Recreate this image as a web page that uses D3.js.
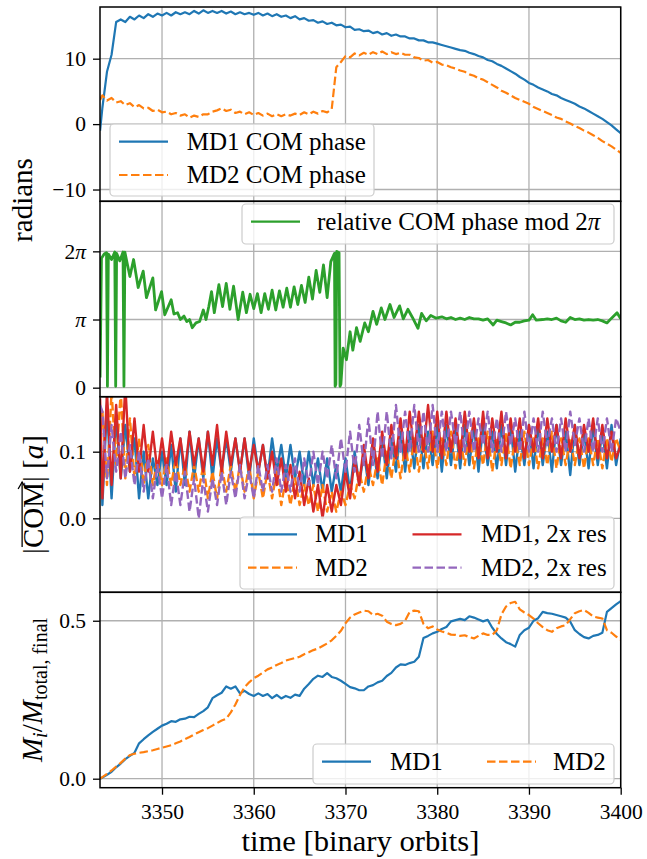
<!DOCTYPE html>
<html><head><meta charset="utf-8">
<script src="https://cdn.jsdelivr.net/npm/d3@7"></script>
<style>
body{margin:0;background:#fff}
svg{display:block}
text{font-family:"Liberation Serif","Times New Roman",serif;fill:#000}
</style>
</head><body>
<svg id="c" width="647" height="859"></svg>
<script>
// ---------- DATA ----------
const timeGrid = [3343.25,3343.5,3344,3344.5,3345,3345.5,3346,3346.5,3347,3347.5,3348,3348.5,3349,3349.5,3350,3350.5,3351,3351.5,3352,3352.5,3353,3353.5,3354,3354.5,3355,3355.5,3356,3356.5,3357,3357.5,3358,3358.5,3359,3359.5,3360,3360.5,3361,3361.5,3362,3362.5,3363,3363.5,3364,3364.5,3365,3365.5,3366,3366.5,3367,3367.5,3368,3368.5,3369,3369.5,3370,3370.5,3371,3371.5,3372,3372.5,3373,3373.5,3374,3374.5,3375,3375.5,3376,3376.5,3377,3377.5,3378,3378.5,3379,3379.5,3380,3380.5,3381,3381.5,3382,3382.5,3383,3383.5,3384,3384.5,3385,3385.5,3386,3386.5,3387,3387.5,3388,3388.5,3389,3389.5,3390,3390.5,3391,3391.5,3392,3392.5,3393,3393.5,3394,3394.5,3395,3395.5,3396,3396.5,3397,3397.5,3398,3398.5,3399,3399.5,3400];

// panel 1: COM phase [radians]
const md1Phase = [-1.0,2.5,8.0,10.6,15.6,16.0,15.6,16.4,16.0,16.6,
16.2,16.8,16.4,16.9,16.6,17.0,16.6,17.1,16.8,17.1,
16.8,17.3,16.9,17.4,17.0,17.3,17.0,17.3,16.9,17.2,
16.8,17.1,16.8,17.0,16.7,17.0,16.6,16.9,16.5,16.8,
16.4,16.6,16.2,16.5,16.0,16.2,15.8,15.9,15.5,15.7,
15.3,15.5,15.1,15.2,14.8,14.9,14.4,14.5,14.2,14.3,
13.9,14.1,13.7,13.9,13.5,13.7,13.4,13.4,13.1,13.1,
12.8,12.8,12.5,12.5,12.3,12.1,11.9,11.7,11.5,11.3,
11.2,10.9,10.7,10.4,10.2,9.8,9.6,9.2,8.9,8.5,
8.1,7.7,7.2,6.8,6.3,6.0,5.6,5.3,5.0,4.6,
4.4,4.0,3.7,3.4,3.1,2.7,2.4,2.0,1.6,1.2,
0.8,0.3,-0.2,-0.8,-1.4];
const md2Phase = [3.7,4.4,3.6,4.0,3.3,3.5,2.9,3.2,2.6,2.9,
2.4,2.5,2.0,2.2,1.8,1.9,1.5,1.7,1.3,1.5,
1.0,1.3,1.1,1.5,1.5,1.9,2.1,2.4,2.0,2.2,
1.7,1.9,1.5,1.8,1.4,1.7,1.3,1.6,1.2,1.5,
1.2,1.5,1.3,1.6,1.4,1.8,1.5,1.9,1.6,2.0,
1.8,2.3,8.7,9.5,10.4,10.2,10.8,10.5,10.9,10.6,
11.0,10.7,11.1,10.7,11.0,10.7,10.9,10.6,10.6,10.2,
10.1,9.7,9.8,9.4,9.5,9.1,9.0,8.7,8.5,8.2,
8.0,7.6,7.4,7.0,6.8,6.4,6.0,5.6,5.1,4.8,
4.4,4.0,3.7,3.4,3.1,2.6,2.3,2.0,1.7,1.4,
1.0,0.8,0.4,0.1,-0.3,-0.6,-1.0,-1.3,-1.7,-2.1,
-2.6,-3.0,-3.4,-3.9,-4.4];

// panel 2: relative COM phase mod 2pi (in units of pi)
const relTime = [3343.25,3343.4,3343.7,3343.95,3344.05,3344.15,3344.5,3344.85,3344.95,3345.05,
3345.4,3345.75,3345.85,3345.95,3346.5,3346.9,3347.4,3347.95,3348.3,3349.0,
3349.3,3349.95,3350.3,3351.0,3351.3,3351.7,3352.0,3352.4,3352.7,3353.0,
3353.3,3353.7,3354.1,3354.5,3354.8,3355.1,3355.4,3355.7,3356.2,3356.6,
3357.0,3357.4,3357.8,3358.3,3358.8,3359.2,3359.6,3360.0,3360.4,3360.8,
3361.2,3361.6,3362.0,3362.4,3362.8,3363.2,3363.6,3364.0,3364.4,3364.8,
3365.2,3365.6,3366.0,3366.4,3366.8,3367.2,3367.6,3368.0,3368.4,3368.8,
3368.87,3368.95,3369.05,3369.3,3369.4,3369.5,3369.75,3370.1,3370.5,3370.8,
3371.2,3371.6,3372.1,3372.5,3373.0,3373.4,3373.9,3374.3,3374.85,3375.3,
3375.9,3376.3,3376.8,3377.3,3377.9,3378.3,3378.8,3379.3,3379.9,3380.5,
3381.0,3381.5,3382.0,3382.5,3383.0,3383.5,3384.0,3384.5,3385.0,3385.5,
3386.1,3386.5,3387.0,3387.5,3388.0,3388.5,3389.0,3389.5,3390.0,3390.4,
3390.8,3391.5,3392.0,3392.5,3393.0,3393.5,3394.0,3394.5,3395.0,3395.5,
3396.0,3396.5,3397.0,3397.5,3398.0,3398.5,3399.0,3399.6,3400.0];
const relPhaseOverPi = [0.15,1.90,1.96,1.98,0.02,1.96,1.88,1.99,0.02,1.97,
1.86,1.99,0.02,1.99,1.63,1.88,1.47,1.71,1.32,1.61,
1.14,1.41,1.07,1.29,1.08,1.10,1.00,1.05,0.97,1.00,
0.88,0.95,0.97,1.14,1.00,1.19,1.41,1.10,1.51,1.19,
1.53,1.15,1.49,1.00,1.40,1.10,1.37,1.16,1.38,1.10,
1.38,1.15,1.43,1.14,1.42,1.18,1.46,1.18,1.48,1.22,
1.50,1.25,1.62,1.30,1.72,1.40,1.80,1.32,1.85,1.97,
0.02,0.05,2.00,1.98,0.02,0.05,0.58,0.41,0.82,0.55,
0.88,0.68,0.95,0.82,1.12,0.93,1.17,1.00,1.22,1.03,
1.20,1.01,1.15,1.03,0.87,1.09,0.98,1.06,1.02,1.04,
1.01,1.03,1.00,1.02,1.00,1.03,1.01,1.01,0.99,1.01,
0.92,0.99,0.97,0.95,0.92,0.96,0.96,0.98,0.99,1.07,
0.99,1.00,1.01,1.00,1.02,0.98,0.96,1.03,1.00,1.01,
0.99,1.00,0.99,1.00,0.98,0.95,1.02,1.10,1.01];

// panel 3: |COM| [a]
const comMD1 = [0.16,0.02,0.17,0.03,0.15,0.06,0.14,0.07,0.12,0.03,
0.10,0.03,0.09,0.05,0.10,0.05,0.11,0.04,0.12,0.05,
0.13,0.06,0.12,0.06,0.13,0.06,0.12,0.07,0.12,0.07,
0.12,0.07,0.12,0.06,0.12,0.07,0.11,0.06,0.12,0.07,
0.11,0.06,0.11,0.06,0.10,0.05,0.10,0.05,0.09,0.04,
0.09,0.04,0.08,0.04,0.09,0.04,0.10,0.05,0.10,0.05,
0.11,0.06,0.12,0.06,0.12,0.07,0.13,0.07,0.13,0.075,
0.14,0.075,0.13,0.08,0.14,0.07,0.14,0.08,0.14,0.075,
0.14,0.08,0.14,0.07,0.14,0.08,0.13,0.075,0.14,0.08,
0.14,0.07,0.13,0.08,0.14,0.075,0.14,0.08,0.13,0.07,
0.14,0.08,0.13,0.065,0.14,0.08,0.13,0.075,0.14,0.08,
0.13,0.075,0.14,0.08,0.12];
const comMD2 = [0.12,0.16,0.05,0.19,0.08,0.19,0.06,0.15,0.06,
0.12,0.05,0.11,0.05,0.09,0.05,0.09,0.05,0.09,0.05,
0.08,0.04,0.08,0.04,0.08,0.03,0.07,0.03,0.08,0.04,
0.08,0.04,0.08,0.04,0.08,0.03,0.07,0.03,0.07,0.03,
0.07,0.02,0.06,0.02,0.06,0.02,0.05,0.02,0.05,0.01,
0.05,0.01,0.04,0.01,0.04,0.02,0.05,0.03,0.07,0.04,
0.08,0.05,0.09,0.05,0.10,0.06,0.11,0.06,0.11,0.07,
0.12,0.07,0.12,0.075,0.13,0.075,0.12,0.08,0.13,0.075,
0.12,0.08,0.13,0.075,0.12,0.08,0.13,0.07,0.12,0.08,
0.13,0.075,0.12,0.08,0.13,0.08,0.12,0.075,0.12,0.08,
0.13,0.075,0.12,0.08,0.12,0.08,0.12,0.075,0.12,0.08,
0.12,0.075,0.12,0.085,0.12,0.10];
const comMD1x2 = [0.18,0.03,0.19,0.05,0.17,0.06,0.20,0.07,0.15,0.07,
0.14,0.07,0.13,0.07,0.12,0.07,0.13,0.08,0.12,0.07,
0.13,0.08,0.12,0.07,0.13,0.08,0.14,0.07,0.13,0.08,
0.12,0.07,0.12,0.07,0.11,0.07,0.11,0.06,0.10,0.05,
0.09,0.04,0.08,0.03,0.07,0.02,0.06,0.01,0.05,0.00,
0.05,0.01,0.05,0.02,0.07,0.03,0.09,0.05,0.11,0.06,
0.12,0.07,0.13,0.08,0.14,0.09,0.15,0.09,0.16,0.10,
0.16,0.10,0.17,0.10,0.16,0.09,0.16,0.10,0.15,0.09,
0.16,0.10,0.15,0.09,0.16,0.09,0.15,0.10,0.16,0.09,
0.15,0.10,0.15,0.09,0.14,0.10,0.15,0.09,0.15,0.10,
0.14,0.09,0.15,0.10,0.14,0.09,0.14,0.10,0.15,0.09,
0.14,0.09,0.13,0.09,0.11];
const comMD2x2 = [0.17,0.16,0.06,0.14,0.07,0.13,0.06,0.11,0.05,
0.10,0.04,0.09,0.03,0.08,0.03,0.08,0.02,0.07,0.02,
0.07,0.01,0.06,0.00,0.06,0.01,0.06,0.02,0.07,0.02,
0.07,0.03,0.08,0.03,0.07,0.03,0.08,0.04,0.08,0.04,
0.09,0.04,0.08,0.04,0.09,0.04,0.09,0.05,0.10,0.05,
0.10,0.06,0.11,0.06,0.12,0.07,0.13,0.07,0.14,0.08,
0.15,0.08,0.16,0.09,0.16,0.09,0.17,0.10,0.16,0.10,
0.17,0.10,0.16,0.10,0.17,0.10,0.16,0.10,0.16,0.11,
0.16,0.10,0.16,0.10,0.15,0.11,0.16,0.10,0.15,0.10,
0.16,0.11,0.15,0.10,0.16,0.10,0.15,0.10,0.16,0.11,
0.15,0.10,0.15,0.10,0.16,0.11,0.15,0.10,0.15,0.10,
0.15,0.10,0.15,0.10,0.15,0.13];

// panel 4: M_i / M_total,final
const massMD1 = [0.000,0.004,0.012,0.022,0.036,0.048,0.062,0.072,0.082,0.112,
0.125,0.137,0.148,0.158,0.168,0.174,0.182,0.180,0.188,0.190,
0.196,0.195,0.205,0.214,0.226,0.255,0.264,0.272,0.292,0.285,
0.292,0.270,0.278,0.268,0.262,0.270,0.262,0.268,0.255,0.265,
0.254,0.262,0.256,0.266,0.262,0.285,0.300,0.316,0.326,0.322,
0.334,0.322,0.318,0.310,0.300,0.290,0.286,0.280,0.280,0.292,
0.296,0.305,0.310,0.325,0.335,0.352,0.362,0.360,0.366,0.370,
0.386,0.445,0.452,0.460,0.465,0.474,0.480,0.498,0.502,0.506,
0.502,0.514,0.510,0.504,0.498,0.503,0.478,0.458,0.444,0.432,
0.426,0.418,0.455,0.470,0.478,0.500,0.508,0.528,0.524,0.522,
0.518,0.514,0.510,0.497,0.470,0.458,0.448,0.444,0.452,0.455,
0.462,0.528,0.540,0.552,0.562];
const massMD2 = [0.000,0.005,0.015,0.026,0.038,0.050,0.064,0.075,0.079,0.082,
0.084,0.087,0.090,0.094,0.098,0.102,0.106,0.112,0.118,0.125,
0.132,0.140,0.147,0.154,0.160,0.168,0.176,0.184,0.190,0.210,
0.235,0.265,0.290,0.305,0.318,0.326,0.336,0.346,0.352,0.360,
0.366,0.374,0.378,0.382,0.386,0.394,0.400,0.407,0.412,0.420,
0.428,0.438,0.452,0.468,0.492,0.510,0.520,0.526,0.532,0.530,
0.518,0.522,0.516,0.497,0.490,0.486,0.490,0.500,0.528,0.532,
0.530,0.490,0.476,0.482,0.472,0.466,0.462,0.456,0.455,0.452,
0.454,0.448,0.444,0.452,0.460,0.455,0.455,0.470,0.520,0.545,
0.556,0.560,0.536,0.526,0.518,0.507,0.492,0.480,0.470,0.465,
0.476,0.482,0.486,0.505,0.524,0.530,0.534,0.525,0.513,0.510,
0.507,0.470,0.462,0.450,0.440];

const xTicks = [3350,3360,3370,3380,3390,3400];
const yTicks1 = [-10,0,10];
const yTicks2 = [0,1,2];           // multiples of pi
const yTicks3 = [0.0,0.1];
const yTicks4 = [0.0,0.5];

// ---------- DRAWING ----------
const C = {blue:"#1f77b4",orange:"#ff7f0e",green:"#2ca02c",red:"#d62728",purple:"#9467bd"};
const svg = d3.select("#c");
const defs = svg.append("defs");
const XL = 100, XR = 620.7;
const x = d3.scaleLinear().domain([3343.24,3400]).range([XL,XR]);

const panels = [
  {top:7,   bot:201.3, y:d3.scaleLinear().domain([-11.8,17.9]).range([201.3,7])},
  {top:201.3,bot:396.7, y:d3.scaleLinear().domain([-0.416,8.59]).range([396.7,201.3])},
  {top:396.7,bot:592.3, y:d3.scaleLinear().domain([-0.111,0.1825]).range([592.3,396.7])},
  {top:592.3,bot:787.7, y:d3.scaleLinear().domain([-0.0285,0.59]).range([787.7,592.3])}
];
panels.forEach((p,i)=>{
  defs.append("clipPath").attr("id","clip"+i).append("rect")
    .attr("x",XL).attr("y",p.top).attr("width",XR-XL).attr("height",p.bot-p.top);
});

const gridCol = "#b0b0b0";
function grid(p, yvals){
  const g = svg.append("g");
  g.selectAll(".vx").data(xTicks).enter().append("line")
    .attr("x1",d=>x(d)).attr("x2",d=>x(d)).attr("y1",p.top).attr("y2",p.bot)
    .attr("stroke",gridCol).attr("stroke-width",1.3);
  g.selectAll(".hy").data(yvals).enter().append("line")
    .attr("x1",XL).attr("x2",XR).attr("y1",d=>p.y(d)).attr("y2",d=>p.y(d))
    .attr("stroke",gridCol).attr("stroke-width",1.3);
}
grid(panels[0], yTicks1);
grid(panels[1], yTicks2.map(v=>v*Math.PI));
grid(panels[2], yTicks3);
grid(panels[3], yTicks4);

function series(pi, xs, ys, color, dashed, width){
  const p = panels[pi];
  const line = d3.line().x((d,i)=>x(xs[i])).y(d=>p.y(d));
  svg.append("path").attr("clip-path",`url(#clip${pi})`)
    .attr("d", line(ys)).attr("fill","none").attr("stroke",color)
    .attr("stroke-width",width).attr("stroke-linejoin","round")
    .attr("stroke-dasharray", dashed ? "8.5,3.5" : null);
}
series(0,timeGrid,md1Phase,C.blue,false,2.2);
series(0,timeGrid,md2Phase,C.orange,true,2.2);
series(1,relTime,relPhaseOverPi.map(v=>v*Math.PI),C.green,false,2.8);
series(2,timeGrid,comMD1,C.blue,false,2.4);
series(2,timeGrid,comMD2,C.orange,true,2.4);
series(2,timeGrid,comMD1x2,C.red,false,2.4);
series(2,timeGrid,comMD2x2,C.purple,true,2.4);
series(3,timeGrid,massMD1,C.blue,false,2.2);
series(3,timeGrid,massMD2,C.orange,true,2.2);

// spines
panels.forEach(p=>{
  svg.append("rect").attr("x",XL).attr("y",p.top).attr("width",XR-XL).attr("height",p.bot-p.top)
    .attr("fill","none").attr("stroke","#000").attr("stroke-width",1.5);
});

// axes
const FS = 21.5;
function yAxis(p, vals, fmt){
  const g = svg.append("g").attr("transform",`translate(${XL},0)`)
    .call(d3.axisLeft(p.y).tickValues(vals).tickSize(7).tickPadding(7).tickFormat(fmt));
  g.select(".domain").remove();
  g.selectAll(".tick line").attr("stroke","#000").attr("stroke-width",1.3);
  g.selectAll("text").attr("font-size",FS).style("font-family",'"Liberation Serif",serif');
  return g;
}
yAxis(panels[0], yTicks1, d=> d<0 ? "\u2212"+Math.abs(d) : String(d));
const g2 = yAxis(panels[1], yTicks2.map(v=>v*Math.PI), d=>"");
g2.selectAll(".tick text").each(function(d){
  const k = Math.round(d/Math.PI);
  const t = d3.select(this);
  if(k===0){ t.text("0"); }
  else { if(k>1) t.append("tspan").text(String(k)); t.append("tspan").attr("font-style","italic").text("\u03c0"); }
});
yAxis(panels[2], yTicks3, d3.format(".1f"));
yAxis(panels[3], yTicks4, d3.format(".1f"));

const gx = svg.append("g").attr("transform",`translate(0,${panels[3].bot})`)
  .call(d3.axisBottom(x).tickValues(xTicks).tickSize(7).tickPadding(8).tickFormat(d3.format("d")));
gx.select(".domain").remove();
gx.selectAll(".tick line").attr("stroke","#000").attr("stroke-width",1.3);
gx.selectAll("text").attr("font-size",FS).style("font-family",'"Liberation Serif",serif')
  .attr("dy",null).attr("y",31.5);

// axis labels
const LFS = 29;
svg.append("text").attr("x",360.4).attr("y",851).attr("text-anchor","middle")
  .attr("font-size",LFS).attr("textLength",238).attr("lengthAdjust","spacingAndGlyphs")
  .text("time [binary orbits]");
svg.append("text").attr("transform","translate(32,200) rotate(-90)").attr("text-anchor","middle")
  .attr("font-size",LFS).text("radians");

// |COM-> | [a]
{
  const g = svg.append("g").attr("transform","translate(43,494.5) rotate(-90)");
  const t = g.append("text").attr("text-anchor","middle").attr("font-size",LFS);
  t.append("tspan").text("|");
  t.append("tspan").text("COM");
  t.append("tspan").text("| [");
  t.append("tspan").attr("font-style","italic").text("a");
  t.append("tspan").text("]");
  const node = t.node();
  const s = node.getStartPositionOfChar(1).x, e = node.getEndPositionOfChar(3).x;
  const ay = -LFS*0.72;
  g.append("line").attr("x1",s+1).attr("x2",e).attr("y1",ay).attr("y2",ay)
    .attr("stroke","#000").attr("stroke-width",1.3);
  g.append("path").attr("d",`M${e-7},${ay-4} L${e},${ay} L${e-7},${ay+4}`)
    .attr("fill","none").attr("stroke","#000").attr("stroke-width",1.3);
}
// M_i / M_total,final
{
  const g = svg.append("g").attr("transform","translate(42,690) rotate(-90)");
  const t = g.append("text").attr("text-anchor","middle").attr("font-size",LFS);
  t.append("tspan").attr("font-style","italic").text("M");
  t.append("tspan").attr("font-style","italic").attr("font-size",20).attr("dy",5).text("i");
  t.append("tspan").attr("dy",-5).text("/");
  t.append("tspan").attr("font-style","italic").text("M");
  t.append("tspan").attr("font-size",20).attr("dy",5).text("total, final");
}

// legends
function legend(box, items){
  const g = svg.append("g");
  g.append("rect").attr("x",box[0]).attr("y",box[1]).attr("width",box[2]).attr("height",box[3])
    .attr("rx",4).attr("fill","#fff").attr("fill-opacity",0.8)
    .attr("stroke","#cccccc").attr("stroke-width",1.2);
  items.forEach(it=>{
    g.append("line").attr("x1",it.lx).attr("x2",it.lx+49).attr("y1",it.ly).attr("y2",it.ly)
      .attr("stroke",it.color).attr("stroke-width",2.2)
      .attr("stroke-dasharray", it.dashed ? "8.5,3.5" : null);
    const t = g.append("text").attr("x",it.tx).attr("y",it.ly+8).attr("font-size",25);
    it.label.forEach(part=>{
      const s = t.append("tspan").text(part.t);
      if(part.i) s.attr("font-style","italic");
    });
  });
}
legend([110,124,264,72],[
  {lx:119,ly:141.7,tx:186.7,color:C.blue,label:[{t:"MD1 COM phase"}]},
  {lx:119,ly:175,tx:186.7,color:C.orange,dashed:true,label:[{t:"MD2 COM phase"}]}
]);
legend([242,204,372,40],[
  {lx:251,ly:221.7,tx:317,color:C.green,label:[{t:"relative COM phase mod 2"},{t:"\u03c0",i:true}]}
]);
legend([240,517,374,72],[
  {lx:248,ly:534.3,tx:315,color:C.blue,label:[{t:"MD1"}]},
  {lx:248,ly:567.7,tx:315,color:C.orange,dashed:true,label:[{t:"MD2"}]},
  {lx:412.5,ly:534.3,tx:481,color:C.red,label:[{t:"MD1, 2x res"}]},
  {lx:412.5,ly:567.7,tx:481,color:C.purple,dashed:true,label:[{t:"MD2, 2x res"}]}
]);
legend([313,744,301,40],[
  {lx:322,ly:761.7,tx:390,color:C.blue,label:[{t:"MD1"}]},
  {lx:487,ly:761.7,tx:553,color:C.orange,dashed:true,label:[{t:"MD2"}]}
]);
</script>
</body></html>
